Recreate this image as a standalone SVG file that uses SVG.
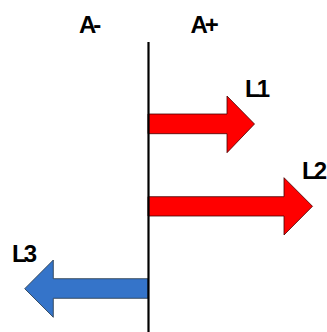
<svg xmlns="http://www.w3.org/2000/svg" width="327" height="332" viewBox="0 0 327 332">
<style>
.lbl{font-family:"Liberation Sans",Arial,sans-serif;font-weight:bold;fill:#000;font-size:24px;letter-spacing:-3px}
.red{fill:#FF0000;stroke:#400;stroke-width:0.8}
.blue{fill:#3574C9;stroke:#234;stroke-width:0.8}
</style>
<rect width="327" height="332" fill="#fff"/>
<g id="labels">
<text class="lbl" x="79" y="33">A-</text>
<text class="lbl" x="190.5" y="33" letter-spacing="-2">A+</text>
</g>
<g id="connectors">
<g id="L1"><polygon class="red" points="148,114 227,114 227,96 254.5,124 227,152.7 227,133.7 148,133.7"/><text class="lbl" x="245" y="97">L1</text></g>
<g id="L2"><polygon class="red" points="148,196.7 284,196.7 284,177.7 312.5,206.3 284,235 284,216 148,216"/><text class="lbl" x="302" y="179">L2</text></g>
<g id="L3"><polygon class="blue" points="148,278.7 53.3,278.7 53.3,260 24.7,288.7 53.3,317.3 53.3,298.3 148,298.3"/><text class="lbl" x="12" y="261.5">L3</text></g>
</g>
<g id="axis"><line x1="148.5" y1="42" x2="148.5" y2="332" stroke="#000" stroke-width="2.2"/></g>
</svg>
